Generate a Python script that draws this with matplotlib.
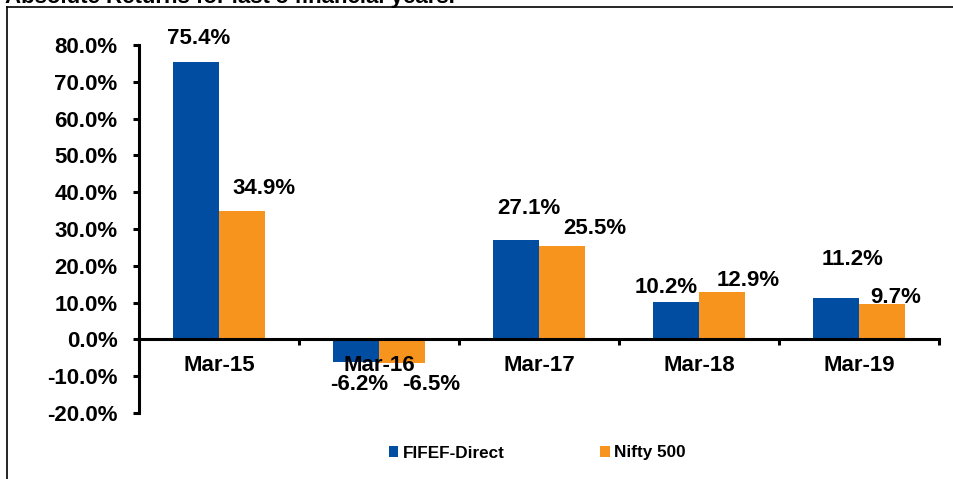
import matplotlib
matplotlib.use("Agg")
import matplotlib.pyplot as plt
from matplotlib.patches import Patch
from matplotlib.lines import Line2D
import numpy as np

categories = ["Mar-15", "Mar-16", "Mar-17", "Mar-18", "Mar-19"]
fifef = [75.4, -6.2, 27.1, 10.2, 11.2]
nifty = [34.9, -6.5, 25.5, 12.9, 9.7]
series_names = ["FIFEF-Direct", "Nifty 500"]
yticks = [-20, -10, 0, 10, 20, 30, 40, 50, 60, 70, 80]
title = "Absolute Returns for last 5 financial years."

# label offsets in pixels (dx, dy) relative to bar centre / bar end
fifef_off = [(3, 23.5), (3, -22), (12.5, 31.5), (-10, 14.5), (16.5, 38.5)]
nifty_off = [(22, 22), (29, -21), (33, 17), (26, 11), (14, 6.5)]

BLUE = "#004DA1"
ORANGE = "#F7941E"
FONT = "Liberation Sans"

plt.rcParams["font.family"] = [FONT, "DejaVu Sans"]
plt.rcParams["font.weight"] = "bold"

W, H = 954, 479
fig = plt.figure(figsize=(W / 100, H / 100), dpi=100)
ax = fig.add_axes([139 / W, 1 - 413 / H, 800 / W, 368 / H])

x = np.arange(len(categories))
bw = 0.2875
ax.bar(x - bw / 2, fifef, bw, color=BLUE, label=series_names[0], zorder=1)
ax.bar(x + bw / 2, nifty, bw, color=ORANGE, label=series_names[1], zorder=1)

ax.set_xlim(-0.5, len(categories) - 0.5)
ax.set_ylim(-20, 80)

for spine in ["top", "right"]:
    ax.spines[spine].set_visible(False)
ax.spines["left"].set_linewidth(2.2)
ax.spines["bottom"].set_linewidth(2.2)
ax.spines["bottom"].set_position(("data", 0))
ax.spines["left"].set_capstyle("projecting")

ax.set_yticks(yticks)
ax.set_yticklabels([f"{v:.1f}%" for v in yticks])
ax.tick_params(axis="y", direction="out", length=4.5, width=2.2, pad=11,
               labelsize=16)

ax.set_xticks(np.arange(-0.5, len(categories), 1.0))
ax.set_xticklabels([])
ax.tick_params(axis="x", which="major", direction="out", length=4.5, width=2.2)
ax.set_xticks(x, minor=True)
ax.set_xticklabels(categories, minor=True)
ax.tick_params(axis="x", which="minor", length=0, pad=11, labelsize=16)

for lab in ax.get_xticklabels(minor=True) + ax.get_yticklabels():
    lab.set_fontweight("bold")

for vals, offs, sgn in [(fifef, fifef_off, -1), (nifty, nifty_off, 1)]:
    for i, (v, (dx, dy)) in enumerate(zip(vals, offs)):
        ax.annotate(f"{v:.1f}%", xy=(x[i] + sgn * bw / 2, v),
                    xytext=(dx, dy), textcoords="offset pixels",
                    ha="center", va="center", fontsize=16, fontweight="bold",
                    zorder=5)

handles = [Patch(facecolor=BLUE), Patch(facecolor=ORANGE)]
fig.legend(handles, series_names, loc="center left",
           bbox_to_anchor=(389 / W, 1 - 453 / H), ncol=2, frameon=False,
           handlelength=0.55, handleheight=0.55,
           handletextpad=0.25, columnspacing=5.6, borderpad=0,
           borderaxespad=0, prop={"weight": "bold", "size": 12.3})

# outer frame (partially cropped, as in the reference)
fig.add_artist(Line2D([7 / W, 7 / W], [0, 1 - 7 / H], color="black",
                      lw=1.2, transform=fig.transFigure))
fig.add_artist(Line2D([7 / W, 1], [1 - 7 / H, 1 - 7 / H], color="black",
                      lw=1.2, transform=fig.transFigure))

# title is cropped at the top edge in the reference
fig.text(5 / W, 1 - 3 / H, title, ha="left", va="baseline",
         fontsize=16, fontweight="bold")

fig.savefig("out.png", dpi=100)
